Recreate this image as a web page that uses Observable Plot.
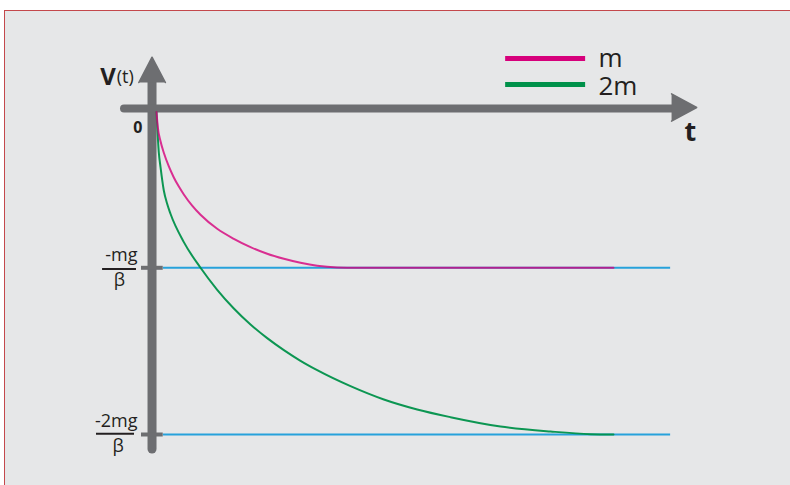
<!DOCTYPE html>
<html>
<head>
<meta charset="utf-8">
<script src="https://cdn.jsdelivr.net/npm/d3@7"></script>
<script src="https://cdn.jsdelivr.net/npm/@observablehq/plot@0.6"></script>
<style>
  html, body { margin: 0; padding: 0; background: #ffffff; }
  #wrap { position: relative; width: 790px; height: 485px; overflow: hidden; }
  #frame { position: absolute; left: 4px; top: 10px; width: 786px; height: 475px;
           background: #e6e7e8; border-left: 1.5px solid #c4484c; border-top: 1.5px solid #c4484c; box-sizing: border-box; }
  #chart { position: absolute; left: 0; top: 0; }
</style>
</head>
<body>
<div id="wrap"><div id="frame"></div><div id="chart"></div></div>
<script>
// ---- data (t in arbitrary time units, v in units of mg/β) ----
const seriesNames = ["m", "2m"];
const colors = ["#d6007b", "#00914a"];
const mT = [0, 0.029, 0.088, 0.160, 0.270, 0.379, 0.489, 0.598, 0.780, 0.963, 1.328, 1.692, 2.057, 2.422, 2.787, 3.151, 3.516, 3.953, 4.391, 10];
const mV = [-0.066, -0.157, -0.241, -0.310, -0.392, -0.458, -0.513, -0.560, -0.627, -0.682, -0.766, -0.826, -0.876, -0.916, -0.946, -0.970, -0.988, -0.998, -1, -1];
const gT = [0, 0.051, 0.088, 0.160, 0.233, 0.306, 0.598, 0.963, 1.328, 1.692, 2.057, 2.422, 2.787, 3.151, 3.516, 4.245, 4.975, 5.704, 6.433, 7.527, 8.621, 9.497, 10];
const gV = [-0.066, -0.310, -0.396, -0.536, -0.616, -0.676, -0.846, -1.000, -1.132, -1.244, -1.340, -1.422, -1.494, -1.558, -1.614, -1.710, -1.790, -1.850, -1.896, -1.952, -1.982, -1.998, -2];
const terminalV = [-1, -2];
const terminalLabels = ["-mg", "-2mg"];
const fractionDenominator = "β";
const yTickLabel = "0";
const xLabel = "t";
const yLabelMain = "V";
const yLabelArg = "(t)";

const mData = mT.map((t, i) => ({t, v: mV[i]}));
const gData = gT.map((t, i) => ({t, v: gV[i]}));

const gray = "#6d6e71";
const ink = "#231f20";
const blue = "#27a2db";
const font = "Open Sans, sans-serif";

const chart = Plot.plot({
  width: 790,
  height: 485,
  margin: 0,
  style: {background: "transparent", overflow: "visible"},
  x: {domain: [0, 10], range: [156, 613], axis: null},
  y: {domain: [-2, -1], range: [434, 267.3], axis: null},
  marks: [
    // terminal-velocity reference lines
    Plot.ruleY(terminalV, {y: d => d, x1: 0.15, x2: 11.25, stroke: blue, strokeWidth: 2}),
    // axes
    Plot.ruleX([0], {x: -0.098, y1: 0.1116, y2: -2.09, stroke: gray, strokeWidth: 9, strokeLinecap: "round"}),
    Plot.line([{t: -0.387, v: 0.1116}, {t: -0.098, v: 0.2633}, {t: 0.195, v: 0.1116}],
      {x: "t", y: "v", fill: gray, stroke: gray, strokeWidth: 1.5, strokeLinejoin: "round"}),
    Plot.ruleY([0], {y: -0.0444, x1: -0.70, x2: 11.29, stroke: gray, strokeWidth: 8, strokeLinecap: "round"}),
    Plot.line([{t: 11.27, v: 0.0438}, {t: 11.82, v: -0.0384}, {t: 11.27, v: -0.1206}],
      {x: "t", y: "v", fill: gray, stroke: gray, strokeWidth: 1.5, strokeLinejoin: "round"}),
    Plot.ruleY(terminalV, {y: d => d, x1: -0.328, x2: 0.147, stroke: gray, strokeWidth: 4}),
    // curves
    Plot.line(gData, {x: "t", y: "v", stroke: colors[1], strokeWidth: 2, curve: "monotone-x", strokeOpacity: 0.95}),
    Plot.line(mData, {x: "t", y: "v", stroke: colors[0], strokeWidth: 2, curve: "monotone-x", strokeOpacity: 0.8}),
    // legend
    Plot.ruleY([0.2555, 0.0996], {y: d => d, x1: 7.64, x2: 9.39, stroke: (d, i) => colors[i], strokeWidth: 5}),
    Plot.text(seriesNames, {x: 9.67, y: (d, i) => [0.2573, 0.0876][i], text: d => d, textAnchor: "start",
      fill: ink, fontSize: 26, fontFamily: font}),
    // axis labels
    Plot.text([yLabelMain], {x: -0.89, y: 0.1416, text: d => d, textAnchor: "end", fill: ink, fontSize: 24, fontWeight: "bold", fontFamily: font}),
    Plot.text([yLabelArg], {x: -0.87, y: 0.1416, text: d => d, textAnchor: "start", fill: ink, fontSize: 18, fontFamily: font}),
    Plot.text([yTickLabel], {x: -0.306, y: -0.1578, text: d => d, textAnchor: "end", fill: ink, fontSize: 16, fontWeight: "bold", fontFamily: font}),
    Plot.text([xLabel], {x: 11.68, y: -0.1866, text: d => d, textAnchor: "middle", fill: ink, fontSize: 27, fontWeight: "bold", fontFamily: font}),
    // fraction labels
    Plot.text(terminalLabels, {x: -0.416, y: (d, i) => [-0.9274, -1.9232][i], text: d => d, textAnchor: "end", fill: ink, fontSize: 18, fontFamily: font}),
    Plot.ruleY(terminalV, {y: (d, i) => [-1.0066, -1.9952][i], x1: (d, i) => [-1.18, -1.313][i], x2: (d, i) => [-0.438, -0.481][i], stroke: ink, strokeWidth: 2}),
    Plot.text(terminalV, {x: (d, i) => [-0.81, -0.838][i], y: (d, i) => [-1.0774, -2.0732][i], text: () => fractionDenominator, textAnchor: "middle", fill: ink, fontSize: 18, fontFamily: font})
  ]
});
document.getElementById("chart").appendChild(chart);
</script>
</body>
</html>
